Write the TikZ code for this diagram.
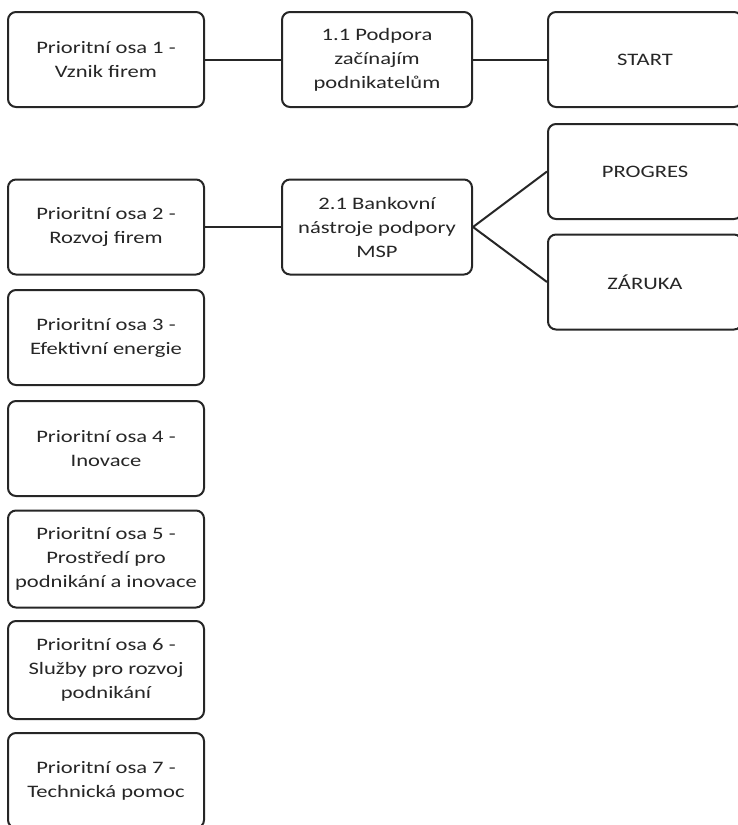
\documentclass[tikz,border=0pt]{standalone}
\usepackage{fontspec}
\setmainfont{Carlito}[FakeStretch=1.29]
\definecolor{edge}{HTML}{262626}
\definecolor{txt}{HTML}{262626}
\begin{document}
\begin{tikzpicture}[x=1pt,y=-1pt,
  box/.style={draw=edge, line width=2pt, rounded corners=8pt, fill=white,
    minimum width=196pt, minimum height=95pt, inner sep=0pt,
    align=center, text=txt, font=\fontsize{17.5}{24}\selectfont},
  mbox/.style={box, minimum width=190pt},
  link/.style={draw=edge, line width=2pt}]
\useasboundingbox (0,0) rectangle (737,825);
\node[box] (p1) at (106,59.5) {Prioritní osa 1 -\\Vznik firem};
\node[box] (p2) at (106,227) {Prioritní osa 2 -\\Rozvoj firem};
\node[box] (p3) at (106,337.5) {Prioritní osa 3 -\\Efektivní energie};
\node[box] (p4) at (106,448.5) {Prioritní osa 4 -\\Inovace};
\node[box, minimum height=97pt] (p5) at (106,559) {Prioritní osa 5 -\\Prostředí pro\\podnikání a inovace};
\node[box, minimum height=98pt] (p6) at (106,670) {Prioritní osa 6 -\\Služby pro rozvoj\\podnikání};
\node[box] (p7) at (106,780.5) {Prioritní osa 7 -\\Technická pomoc};
\node[mbox] (m1) at (377,59.5) {1.1 Podpora\\začínajím\\podnikatelům};
\node[mbox] (m2) at (377,227) {2.1 Bankovní\\nástroje podpory\\MSP};
\node[mbox, minimum width=194pt] (start) at (645,59.5) {START};
\node[mbox, minimum width=194pt] (prog) at (645,171.5) {PROGRES};
\node[mbox, minimum width=194pt] (zar) at (645,282) {ZÁRUKA};
\draw[link] (p1.east) -- (m1.west);
\draw[link] (m1.east) -- (start.west);
\draw[link] (p2.east) -- (m2.west);
\draw[link] (m2.east) -- (prog.west);
\draw[link] (m2.east) -- (zar.west);
\end{tikzpicture}
\end{document}
